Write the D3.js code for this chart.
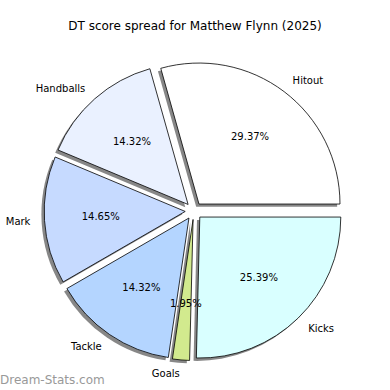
<!DOCTYPE html>
<html><head><meta charset="utf-8">
<script src="https://cdn.jsdelivr.net/npm/d3@7"></script>
<style>body{margin:0;background:#fff}svg{display:block}</style>
</head><body>
<svg id="chart" width="390" height="390"></svg>
<script>
const categories = ["Hitout", "Handballs", "Mark", "Tackle", "Goals", "Kicks"];
const values = [29.37, 14.32, 14.65, 14.32, 1.95, 25.39];
const colors = ["#ffffff", "#eaf1ff", "#c6daff", "#b4d5ff", "#d2ea8e", "#d9ffff"];
const title = "DT score spread for Matthew Flynn (2025)";

const svg = d3.select("#chart");
const cx = 193.8, cy = 210.9, r = 141, explode = 0.061 * r, shadowOff = 0.02 * r;
const font = "DejaVu Sans, sans-serif";

const total = d3.sum(values);
const angle = d3.scaleLinear().domain([0, total]).range([0, 2 * Math.PI]);
let cum = 0;
const slices = values.map((v, i) => {
  const a0 = angle(cum); cum += v; const a1 = angle(cum);
  return {i, v, a0, a1, mid: (a0 + a1) / 2};
});
const arc = d3.arc().innerRadius(0).outerRadius(r);
function d3arc(s) {
  return arc({startAngle: Math.PI / 2 - s.a1, endAngle: Math.PI / 2 - s.a0});
}
function offset(s, dist) {
  return [cx + dist * Math.cos(s.mid), cy - dist * Math.sin(s.mid)];
}

const g = svg.append("g");
slices.forEach(s => {
  const [ox, oy] = offset(s, explode);
  g.append("path").attr("d", d3arc(s))
    .attr("transform", `translate(${ox - shadowOff},${oy + shadowOff})`)
    .attr("fill", "#000").attr("opacity", 0.47);
});
slices.forEach(s => {
  const [ox, oy] = offset(s, explode);
  g.append("path").attr("d", d3arc(s))
    .attr("transform", `translate(${ox},${oy})`)
    .attr("fill", colors[s.i]).attr("stroke", "#000").attr("stroke-width", 0.8)
    .attr("stroke-linejoin", "miter");
});
slices.forEach(s => {
  const [ox, oy] = offset(s, explode);
  const lx = ox + 1.1 * r * Math.cos(s.mid), ly = oy - 1.1 * r * Math.sin(s.mid);
  svg.append("text").attr("x", lx).attr("y", ly).attr("dy", "0.35em")
    .attr("text-anchor", Math.cos(s.mid) > 0 ? "start" : "end")
    .attr("font-family", font).attr("font-size", 10).attr("fill", "#000")
    .text(categories[s.i]);
  const px = ox + 0.6 * r * Math.cos(s.mid), py = oy - 0.6 * r * Math.sin(s.mid);
  svg.append("text").attr("x", px).attr("y", py).attr("dy", "0.35em")
    .attr("text-anchor", "middle")
    .attr("font-family", font).attr("font-size", 10).attr("fill", "#000")
    .text(values[s.i].toFixed(2) + "%");
});
svg.append("text").attr("x", 195).attr("y", 30).attr("text-anchor", "middle")
  .attr("font-family", font).attr("font-size", 12).attr("fill", "#000").text(title);
svg.append("text").attr("x", 0).attr("y", 384)
  .attr("font-family", font).attr("font-size", 12)
  .attr("fill", "#999").text("Dream-Stats.com");
</script>
</body></html>
